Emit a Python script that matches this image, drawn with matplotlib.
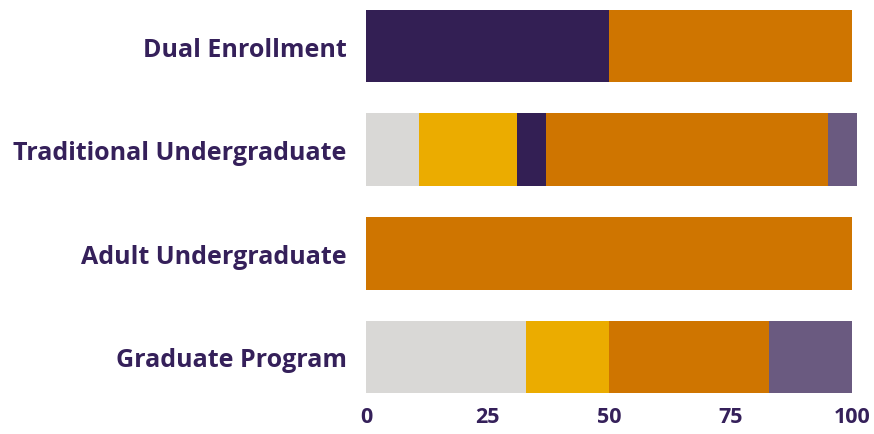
import matplotlib.pyplot as plt
import numpy as np

categories = ["Dual Enrollment", "Traditional Undergraduate", "Adult Undergraduate", "Graduate Program"]
# segment values (percent) per category, left to right
seg_gray = [0, 11, 0, 33]
seg_gold = [0, 20, 0, 17]
seg_purple = [50, 6, 0, 0]
seg_orange = [50, 58, 100, 33]
seg_muted = [0, 6, 0, 17]
xticks = [0, 25, 50, 75, 100]

colors = ["#d9d8d6", "#ebac00", "#331f54", "#cf7500", "#6a5a80"]
series = [seg_gray, seg_gold, seg_purple, seg_orange, seg_muted]
text_color = "#35205a"

plt.rcParams['font.family'] = ['Open Sans', 'DejaVu Sans']

fig = plt.figure(figsize=(8.74, 4.35), dpi=100)
ax = fig.add_axes([366 / 874, 34 / 435, 491 / 874, 400 / 435])

y = np.arange(len(categories))
left = np.zeros(len(categories))
for vals, c in zip(series, colors):
    vals = np.array(vals, dtype=float)
    ax.barh(y, vals, left=left, height=0.70, color=c, linewidth=0)
    left += vals

ax.set_xlim(0, 101)
ax.set_ylim(3.415, -0.444)
ax.set_yticks(y)
ax.set_yticklabels(categories, fontsize=18, fontweight='bold', color=text_color)
ax.set_xticks(xticks)
ax.set_xticklabels([str(t) for t in xticks], fontsize=15.5, fontweight='bold', color=text_color)
ax.tick_params(axis='both', length=0)
ax.tick_params(axis='y', pad=14)
ax.tick_params(axis='x', pad=4)
for s in ax.spines.values():
    s.set_visible(False)

fig.savefig("out.png", dpi=100)
